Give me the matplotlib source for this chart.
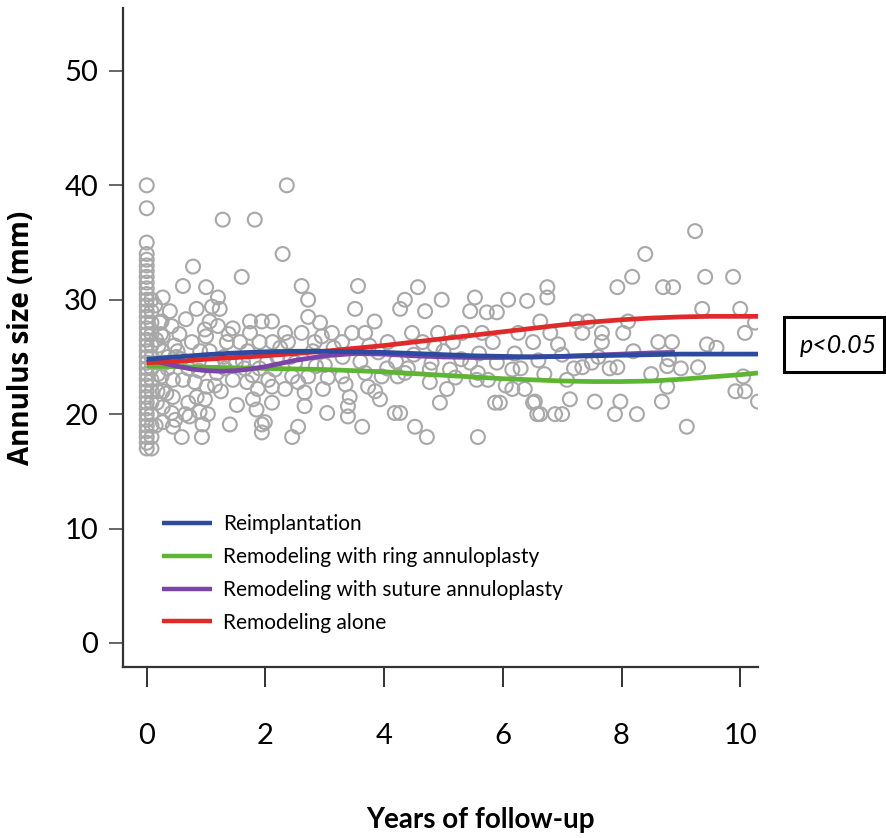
import matplotlib
matplotlib.use("Agg")
import matplotlib.pyplot as plt
from matplotlib.patches import Rectangle

plt.rcParams['font.family'] = ['Lato', 'Open Sans', 'DejaVu Sans']

# ---- data -----------------------------------------------------------------
# scatter: column at baseline (x = 0)
col0_y = [17, 17.5, 18, 18.5, 19, 19.5, 20, 20.5, 21, 21.5, 22, 22.5, 23, 23.5, 24,
          24.5, 25, 25.5, 26, 26.5, 27, 27.5, 28, 28.5, 29, 29.5, 30, 30.5, 31, 31.5,
          32, 32.5, 33, 33.5, 34, 35, 38, 40]
col1_y = [17, 18, 19, 20, 21, 22, 23, 24, 25, 26, 27, 28, 29, 30]

# scatter: follow-up measurements
fu_x = [1.28, 1.82, 0.78, 1.60, 0.61, 1.00, 0.27, 1.20, 0.84, 1.10, 0.39, 1.23, 0.25, 1.06,
        1.74, 1.94, 0.42, 0.98, 1.20, 0.27, 0.76, 1.00, 1.35, 1.57, 1.74, 1.90, 0.27, 0.52,
        1.06, 0.25, 0.44, 0.61, 0.81, 1.01, 1.45, 1.69, 1.87, 0.27, 0.44, 0.84, 0.98, 1.79,
        0.27, 0.42, 0.89, 1.03, 1.85, 0.27, 0.44, 0.94, 1.40, 1.94, 0.59, 0.93, 1.94,
        2.36, 2.29, 2.61, 2.72, 3.56, 3.51, 3.84, 4.27, 2.11, 2.72, 2.92, 3.12, 2.61, 2.33,
        3.46, 3.68, 2.12, 2.38, 2.83, 3.29, 4.06, 2.16, 2.45, 2.72, 3.05, 3.29, 3.68, 3.96,
        4.23, 2.11, 2.33, 2.66, 2.97, 3.42, 3.73, 3.93, 2.11, 2.66, 3.39, 3.04, 3.39, 4.18,
        1.99, 2.55, 3.63, 2.45,
        4.57, 4.35, 4.97, 5.53, 6.09, 6.41, 4.69, 5.45, 5.73, 5.90, 4.47, 4.91, 5.31, 5.65,
        6.26, 4.65, 5.16, 5.83, 6.51, 4.35, 4.77, 5.11, 5.58, 6.16, 4.77, 5.06, 5.56, 6.16,
        6.37, 4.94, 5.87, 5.95, 6.51, 4.27, 4.52, 4.72, 5.58, 6.58,
        8.40, 8.18, 7.93, 8.70, 8.87, 6.75, 6.75, 6.63, 7.25, 7.44, 8.11, 6.80, 7.34, 7.67,
        8.03, 6.93, 7.67, 8.62, 7.61, 7.34, 7.93, 8.77, 7.08, 8.77, 6.54, 7.13, 7.55, 7.98,
        8.68, 6.63, 6.88, 7.00, 7.89, 8.26,
        9.24, 9.41, 9.88, 9.36, 10.00, 10.25, 10.08, 8.85, 9.44, 9.29, 10.05, 9.92, 10.08,
        10.30, 9.10,
        0.30, 0.50, 0.70, 0.90, 1.10, 1.30, 1.50, 1.70, 1.90, 2.20, 2.50, 2.80, 3.00, 3.30,
        3.60, 3.90, 4.20, 4.50, 4.80, 5.00, 5.30, 5.60, 5.90, 6.20, 6.60, 7.00, 7.50, 8.20,
        8.80, 9.60,
        0.18, 0.20, 0.22, 0.35, 0.55, 0.65, 1.15, 1.45, 1.65, 2.05, 2.25, 2.55, 2.85, 3.15,
        3.75, 4.05, 4.40, 4.85, 5.20, 5.45, 5.75, 6.05, 6.30, 6.70, 7.20, 7.80, 8.50, 9.00,
        0.15, 0.17, 0.20, 0.24, 0.33, 0.48, 0.58, 0.70, 0.72, 1.18, 1.32, 1.52, 1.62, 1.78,
        0.14, 0.16, 0.19, 0.36, 0.47, 0.66, 0.88, 1.25, 1.38, 2.02, 2.42, 2.95, 3.35, 3.85]
fu_y = [37.0, 37.0, 32.9, 32.0, 31.2, 31.1, 30.2, 30.2, 29.2, 29.4, 29.0, 29.2, 28.1, 28.1,
        28.1, 28.1, 27.7, 27.4, 27.7, 26.8, 26.3, 26.8, 26.3, 26.3, 27.1, 26.3, 25.5, 25.5,
        25.5, 23.3, 23.0, 23.0, 22.8, 22.4, 23.0, 22.8, 22.2, 22.0, 21.5, 21.5, 21.3, 21.3,
        20.6, 20.1, 20.2, 20.0, 20.4, 19.3, 18.9, 19.1, 19.1, 19.1, 18.0, 18.0, 18.4,
        40.0, 34.0, 31.2, 30.0, 31.2, 29.2, 28.1, 29.2, 28.1, 28.5, 28.0, 27.1, 27.1, 27.1,
        27.1, 27.1, 26.3, 26.3, 26.3, 26.3, 26.3, 23.9, 23.3, 23.3, 23.2, 23.3, 23.6, 23.3,
        23.3, 22.4, 22.2, 21.9, 22.2, 21.5, 22.4, 21.3, 21.0, 20.7, 20.7, 20.1, 19.8, 20.1,
        19.3, 18.9, 18.9, 18.0,
        31.1, 30.0, 30.0, 30.2, 30.0, 29.9, 29.0, 29.0, 28.9, 28.9, 27.1, 27.1, 27.1, 27.1,
        27.1, 26.3, 26.3, 26.3, 26.3, 23.6, 23.9, 23.9, 23.6, 23.9, 22.8, 22.2, 23.0, 22.2,
        22.2, 21.0, 21.0, 21.0, 21.0, 20.1, 18.9, 18.0, 18.0, 20.0,
        34.0, 32.0, 31.1, 31.1, 31.1, 31.1, 30.2, 28.1, 28.1, 28.1, 28.1, 27.1, 27.1, 27.1,
        27.1, 26.1, 26.3, 26.3, 25.0, 24.1, 24.1, 24.2, 23.0, 22.4, 21.1, 21.3, 21.1, 21.1,
        21.1, 20.0, 20.0, 20.0, 20.0, 20.0,
        36.0, 32.0, 32.0, 29.2, 29.2, 28.0, 27.1, 26.3, 26.1, 24.1, 23.3, 22.0, 22.0,
        21.1, 18.9,
        24.5, 25.0, 24.0, 25.5, 24.3, 25.0, 24.5, 25.5, 24.0, 25.0, 24.5, 25.5, 24.3, 25.0,
        24.6, 25.4, 24.6, 25.2, 24.5, 25.5, 24.8, 25.3, 24.5, 25.3, 24.7, 25.2, 24.5, 25.5,
        24.8, 25.8,
        22.0, 26.0, 28.0, 24.0, 27.0, 20.0, 22.5, 27.5, 24.0, 23.0, 25.8, 22.8, 24.2, 25.8,
        26.0, 24.0, 24.0, 26.0, 23.2, 24.5, 23.0, 22.5, 24.0, 23.5, 24.0, 24.0, 23.5, 24.0,
        19.0, 21.0, 24.5, 27.0, 21.8, 19.5, 24.8, 21.0, 19.8, 23.6, 24.0, 20.8, 24.6, 23.4,
        29.5, 26.5, 23.5, 25.0, 26.0, 28.3, 23.8, 22.0, 27.0, 24.5, 25.0, 26.8, 22.6, 22.0]

# smooth trend lines per group
years = [0, 0.5, 1, 1.5, 2, 2.5, 3, 3.5, 4, 4.5, 5, 5.5, 6, 6.5, 7, 7.5, 8, 8.5, 9, 9.5,
         10, 10.3]
reimplantation = [24.8, 25.0, 25.2, 25.35, 25.45, 25.5, 25.5, 25.45, 25.4, 25.3, 25.2, 25.1,
                  25.05, 25.0, 25.05, 25.1, 25.15, 25.2, 25.25, 25.25, 25.25, 25.25]
ring = [24.2, 24.15, 24.1, 24.05, 24.0, 23.95, 23.9, 23.8, 23.7, 23.55, 23.4, 23.25, 23.1,
        23.0, 22.9, 22.85, 22.85, 22.9, 23.05, 23.25, 23.45, 23.6]
alone = [24.5, 24.6, 24.8, 24.95, 25.1, 25.3, 25.5, 25.75, 26.0, 26.3, 26.6, 26.9, 27.2,
         27.5, 27.8, 28.05, 28.25, 28.4, 28.5, 28.55, 28.55, 28.55]
suture_years = [0, 0.25, 0.5, 0.75, 1, 1.25, 1.5, 1.75, 2, 2.5, 3, 3.5, 4, 4.5, 5, 5.5, 6,
                6.5, 7, 7.5, 8, 8.5, 8.9]
suture = [24.8, 24.5, 24.2, 23.95, 23.8, 23.75, 23.8, 23.95, 24.15, 24.7, 25.1, 25.3, 25.25,
          25.1, 25.0, 24.95, 24.95, 25.0, 25.05, 25.15, 25.25, 25.35, 25.4]

labels = ["Reimplantation", "Remodeling with ring annuloplasty",
          "Remodeling with suture annuloplasty", "Remodeling alone"]
colors = ["#2d4a9e", "#5db531", "#7b45a8", "#e02a2a"]

x_ticks = [0, 2, 4, 6, 8, 10]
y_ticks = [0, 10, 20, 30, 40, 50]

# ---- figure ---------------------------------------------------------------
W, H = 887, 838
fig = plt.figure(figsize=(W / 100, H / 100), dpi=100)
ax = fig.add_axes([123 / W, 1 - 667 / H, (758 - 123) / W, (667 - 8) / H])

pt_color = "#a8a8a8"
ax.scatter([0.0] * len(col0_y), col0_y, s=100, facecolors="none", edgecolors=pt_color,
           linewidths=1.5, zorder=2)
ax.scatter([0.08] * len(col1_y), col1_y, s=100, facecolors="none", edgecolors=pt_color,
           linewidths=1.5, zorder=2)
ax.scatter(fu_x, fu_y, s=100, facecolors="none", edgecolors=pt_color, linewidths=1.5,
           zorder=2)

lw = 3.4
ax.plot(years, reimplantation, color=colors[0], lw=lw, label=labels[0], zorder=4,
        solid_capstyle="butt")
ax.plot(years, ring, color=colors[1], lw=lw, label=labels[1], zorder=3,
        solid_capstyle="butt")
ax.plot(suture_years, suture, color=colors[2], lw=lw, label=labels[2], zorder=3,
        solid_capstyle="butt")
ax.plot(years, alone, color=colors[3], lw=lw, label=labels[3], zorder=3,
        solid_capstyle="butt")

ax.set_xlim(-0.4, 10.3)
ax.set_ylim(-2.1, 55.5)
for s in ("top", "right"):
    ax.spines[s].set_visible(False)
for s in ("left", "bottom"):
    ax.spines[s].set_linewidth(1.6)
    ax.spines[s].set_color("#333333")

ax.set_xticks(x_ticks)
ax.set_yticks(y_ticks)
ax.tick_params(axis="x", direction="out", length=14.5, width=1.4, color="#333333",
               pad=26, labelsize=21)
ax.tick_params(axis="y", direction="out", length=10, width=1.4, color="#666666",
               pad=8, labelsize=21)

ax.set_xlabel("Years of follow-up", fontsize=20, fontweight="bold")
ax.xaxis.set_label_coords(481 / W, 1 - 820 / H, transform=fig.transFigure)
ax.xaxis.label.set_verticalalignment("center")
ax.xaxis.label.set_horizontalalignment("center")

ax.set_ylabel("Annulus size (mm)", fontsize=20, fontweight="bold",
              family=["Open Sans", "DejaVu Sans"])
ax.yaxis.set_label_coords(22 / W, 1 - 338 / H, transform=fig.transFigure)
ax.yaxis.label.set_verticalalignment("center")
ax.yaxis.label.set_horizontalalignment("center")

leg = ax.legend(loc="upper left", bbox_to_anchor=(162 / W, 1 - 514 / H),
                bbox_transform=fig.transFigure, frameon=False, fontsize=15,
                handlelength=2.4, handletextpad=0.55, labelspacing=0.62,
                borderaxespad=0, borderpad=0)
for line in leg.get_lines():
    line.set_linewidth(3.2)

# p-value box
fig.patches.append(Rectangle((784 / W, 1 - 372 / H), 100 / W, 55 / H,
                             transform=fig.transFigure, fill=False, lw=2.2,
                             edgecolor="black"))
fig.text(838 / W, 1 - 345 / H, "p<0.05", ha="center", va="center", fontsize=18,
         style="italic")

fig.savefig("out.png", dpi=100)
